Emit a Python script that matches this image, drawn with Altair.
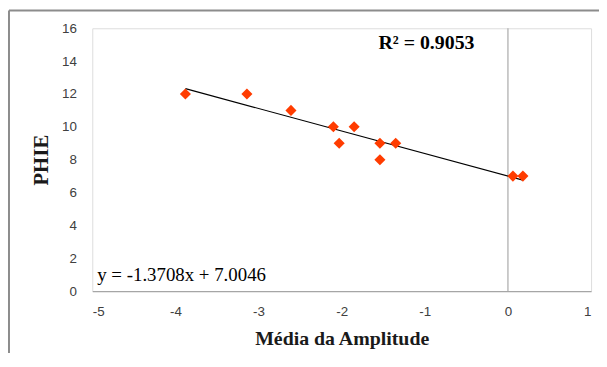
import altair as alt
import pandas as pd

# Data
media_amplitude = [-3.88, -3.14, -2.61, -2.10, -1.85, -2.03, -1.54, -1.54, -1.35, 0.06, 0.18]
phie = [12, 12, 11, 10, 10, 9, 9, 8, 9, 7, 7]

# Trendline printed on the chart
slope = -1.3708
intercept = 7.0046
r2_text = "R² = 0.9053"
eq_text = "y = -1.3708x + 7.0046"

x_ticks = [-5, -4, -3, -2, -1, 0, 1]
y_ticks = [0, 2, 4, 6, 8, 10, 12, 14, 16]

pts = pd.DataFrame({"x": media_amplitude, "y": phie})
xmin, xmax = min(media_amplitude), max(media_amplitude)
trend = pd.DataFrame({"x": [xmin, xmax],
                      "y": [slope * xmin + intercept, slope * xmax + intercept]})

xscale = alt.Scale(domain=[-5, 1], nice=False, zero=False)
yscale = alt.Scale(domain=[0, 16], nice=False)

label_font = "Liberation Sans"
serif = "Liberation Serif"

xaxis = alt.Axis(values=x_ticks, grid=False, ticks=False, tickSize=0,
                 labelOverlap=False, labelExpr="'' + datum.value",
                 domainColor="#A6A6A6", domainWidth=1.3,
                 labelFont=label_font, labelFontSize=13.5, labelColor="#404040",
                 labelPadding=14, titleFont=serif, titleFontSize=20,
                 titleFontWeight="bold", titleColor="#1a1a1a", titlePadding=10)
yaxis = alt.Axis(values=y_ticks, tickCount=9, grid=False, ticks=False, tickSize=0,
                 domain=False, labelOverlap=False, labelExpr="'' + datum.value",
                 labelFont=label_font, labelFontSize=13.5, labelColor="#404040",
                 labelPadding=16, titleFont=serif, titleFontSize=21,
                 titleFontWeight="bold", titleColor="#1a1a1a", titlePadding=10)

X = lambda: alt.X("x:Q", scale=xscale, title="Média da Amplitude", axis=xaxis)
Y = lambda: alt.Y("y:Q", scale=yscale, title="PHIE", axis=yaxis)

points = alt.Chart(pts).mark_point(
    shape="diamond", filled=True, size=125, color="#FF3C00", opacity=1
).encode(x=X(), y=Y())

vline = alt.Chart(pd.DataFrame({"x": [0]})).mark_rule(
    color="#B0B0B0", strokeWidth=1.3
).encode(x=X(), y=alt.value(0), y2=alt.value(265))

line = alt.Chart(trend).mark_line(color="#000000", strokeWidth=1.2).encode(
    x=X(), y=Y()
)

r2 = alt.Chart(pd.DataFrame({"t": [r2_text]})).mark_text(
    font=serif, fontSize=20, fontWeight="bold", color="#000000", align="center",
    baseline="alphabetic"
).encode(x=alt.value(337), y=alt.value(21), text="t:N")

eq = alt.Chart(pd.DataFrame({"t": [eq_text]})).mark_text(
    font=serif, fontSize=19, color="#000000", align="left", baseline="alphabetic"
).encode(x=alt.value(5), y=alt.value(255), text="t:N")

frame_left = alt.Chart(pd.DataFrame({"a": [0]})).mark_rule(
    color="#8C8C8C", strokeWidth=2
).encode(x=alt.value(-84), y=alt.value(-18), y2=alt.value(400))

frame_top = alt.Chart(pd.DataFrame({"a": [0]})).mark_rule(
    color="#8C8C8C", strokeWidth=2
).encode(y=alt.value(-18), x=alt.value(-84), x2=alt.value(600))

chart = alt.layer(frame_left, frame_top, vline, line, points, r2, eq).properties(
    width=503, height=265,
    padding={"left": 85, "top": 19, "right": 8, "bottom": 61},
    autosize=alt.AutoSizeParams(type="none"),
).configure_view(stroke=None).configure(background="white")

chart.save("out.html", embed_options={"renderer": "svg", "actions": False})
